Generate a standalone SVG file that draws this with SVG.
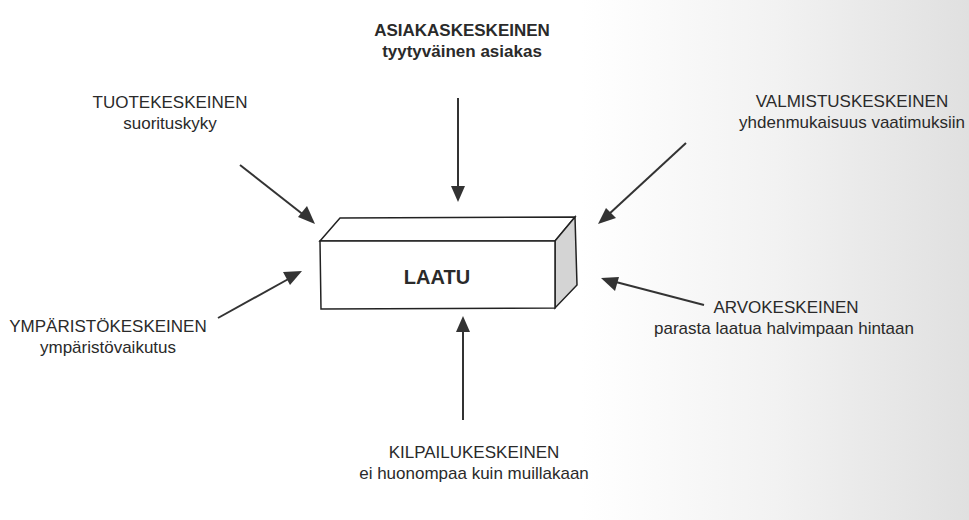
<svg xmlns="http://www.w3.org/2000/svg" width="969" height="520" viewBox="0 0 969 520">
<defs>
<linearGradient id="bg" x1="0" y1="0" x2="1" y2="0">
<stop offset="0" stop-color="#ffffff"/><stop offset="0.6" stop-color="#ffffff"/><stop offset="0.8" stop-color="#f2f2f2"/><stop offset="1" stop-color="#e0e0e0"/>
</linearGradient>
<style>
.t{font-family:"Liberation Sans",Arial,sans-serif;font-size:17px;fill:#2a2a2a;text-anchor:middle}
.b{font-weight:bold}
</style>
</defs>
<rect width="969" height="520" fill="url(#bg)"/>
<g id="connectors">
<path d="M458,98 L458,190" stroke="#333" stroke-width="2"/>
<path d="M458,202 L451,186 L465,186 z" fill="#333"/>
<path d="M240,165 L305,216" stroke="#333" stroke-width="2"/>
<path d="M315,224 L298,217 L307,206 z" fill="#333"/>
<path d="M686,143 L608,215" stroke="#333" stroke-width="2"/>
<path d="M598,224 L606,208 L616,218 z" fill="#333"/>
<path d="M704,305 L612,281" stroke="#333" stroke-width="2"/>
<path d="M601,278 L619,277 L615,291 z" fill="#333"/>
<path d="M218,318 L292,277" stroke="#333" stroke-width="2"/>
<path d="M302,271 L290,285 L283,272 z" fill="#333"/>
<path d="M463,420 L463,328" stroke="#333" stroke-width="2"/>
<path d="M463,316 L470,332 L456,332 z" fill="#333"/>
</g>
<g id="laatu">
<path d="M320,241 L340,218 L575,217 L555,241 z" fill="#fff" stroke="#222" stroke-width="1.5"/>
<path d="M555,241 L575,217 L577,285 L555,308 z" fill="#d4d4d4" stroke="#222" stroke-width="1.5"/>
<path d="M320,241 L555,241 L555,308 L321,309 z" fill="#fff" stroke="#222" stroke-width="1.5"/>
<text class="t b" x="437" y="284" style="font-size:20px">LAATU</text>
</g>
<g id="asiakas"><text class="t b" x="462" y="36">ASIAKASKESKEINEN</text><text class="t b" x="462" y="57">tyytyväinen asiakas</text></g>
<g id="tuote"><text class="t" x="170" y="108">TUOTEKESKEINEN</text><text class="t" x="170" y="129">suorituskyky</text></g>
<g id="valmistus"><text class="t" x="852" y="107">VALMISTUSKESKEINEN</text><text class="t" x="852" y="128">yhdenmukaisuus vaatimuksiin</text></g>
<g id="arvo"><text class="t" x="786" y="313">ARVOKESKEINEN</text><text class="t" x="784" y="334">parasta laatua halvimpaan hintaan</text></g>
<g id="ymparisto"><text class="t" x="108" y="332">YMPÄRISTÖKESKEINEN</text><text class="t" x="108" y="353">ympäristövaikutus</text></g>
<g id="kilpailu"><text class="t" x="474" y="458">KILPAILUKESKEINEN</text><text class="t" x="474" y="479">ei huonompaa kuin muillakaan</text></g>
</svg>
